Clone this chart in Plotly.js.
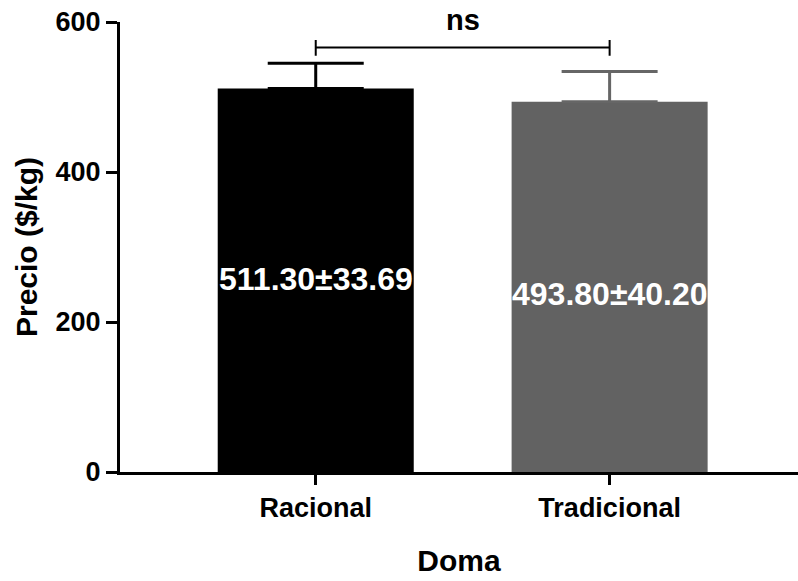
<!DOCTYPE html>
<html>
<head>
<meta charset="utf-8">
<script src="https://cdn.plot.ly/plotly-3.0.1.min.js"></script>
<style>html,body{margin:0;padding:0;background:#fff;}#chart{width:798px;height:581px;}</style>
</head>
<body>
<div id="chart"></div>
<script>
const categories = ["Racional", "Tradicional"];
const means = [511.30, 493.80];
const sems = [33.69, 40.20];
const valueLabels = ["511.30±33.69", "493.80±40.20"];
const labelY = [258, 237];
const barColors = ["#000000", "#626262"];
const errColors = ["#000000", "#666666"];
const yTicks = [0, 200, 400, 600];
const yMax = 600;
const sigLabel = "ns";
const sigY = 566;
const sigTickLow = 555;
const sigTickHigh = 576;
const sigTextY = 602;

const FONT = "Liberation Sans, Arial, Helvetica, sans-serif";

const traces = categories.map((c, i) => ({
  type: "bar",
  x: [c],
  y: [means[i]],
  width: 0.667,
  marker: { color: barColors[i], line: { width: 0 } },
  error_y: {
    type: "data",
    symmetric: false,
    array: [sems[i]],
    arrayminus: [0],
    width: 48,
    thickness: 3,
    color: errColors[i]
  },
  hoverinfo: "none",
  showlegend: false
}));

const annotations = categories.map((c, i) => ({
  x: c, y: labelY[i], xref: "x", yref: "y",
  text: "<b>" + valueLabels[i] + "</b>",
  showarrow: false,
  font: { family: FONT, size: 32, color: "#ffffff" }
}));
annotations.push({
  x: 0.5, y: sigTextY / yMax, xref: "x", yref: "paper",
  xanchor: "center", yanchor: "middle",
  text: "<b>" + sigLabel + "</b>",
  showarrow: false,
  font: { family: FONT, size: 29, color: "#000000" }
});

const shapes = [
  { type: "line", xref: "x", yref: "y", x0: 0, x1: 1, y0: sigY, y1: sigY, line: { color: "#000", width: 2 } },
  { type: "line", xref: "x", yref: "y", x0: 0, x1: 0, y0: sigTickLow, y1: sigTickHigh, line: { color: "#000", width: 2 } },
  { type: "line", xref: "x", yref: "y", x0: 1, x1: 1, y0: sigTickLow, y1: sigTickHigh, line: { color: "#000", width: 2 } }
];

const layout = {
  width: 798, height: 581,
  margin: { l: 120, r: 0, t: 21.5, b: 108.5 },
  paper_bgcolor: "#fff", plot_bgcolor: "#fff",
  barmode: "overlay",
  font: { family: FONT, color: "#000" },
  xaxis: {
    type: "category",
    categoryorder: "array",
    categoryarray: categories,
    range: [-0.666, 1.641],
    showline: true, linewidth: 3, linecolor: "#000",
    ticks: "outside", ticklen: 10, tickwidth: 3, tickcolor: "#000",
    showgrid: false, zeroline: false,
    tickfont: { family: FONT, size: 27, color: "#000", weight: "bold" },
    title: { text: "<b>Doma</b>", font: { family: FONT, size: 30, color: "#000" }, standoff: 28 }
  },
  yaxis: {
    range: [0, yMax],
    tickvals: yTicks,
    ticktext: yTicks.map(String),
    showline: true, linewidth: 3, linecolor: "#000",
    ticks: "outside", ticklen: 11, tickwidth: 3, tickcolor: "#000",
    showgrid: false, zeroline: false,
    tickfont: { family: FONT, size: 27, color: "#000", weight: "bold" },
    title: { text: "<b>Precio ($/kg)</b>", font: { family: FONT, size: 30, color: "#000" }, standoff: 10 }
  },
  annotations: annotations,
  shapes: shapes
};

Plotly.newPlot("chart", traces, layout, { displayModeBar: false, staticPlot: true });
</script>
</body>
</html>
